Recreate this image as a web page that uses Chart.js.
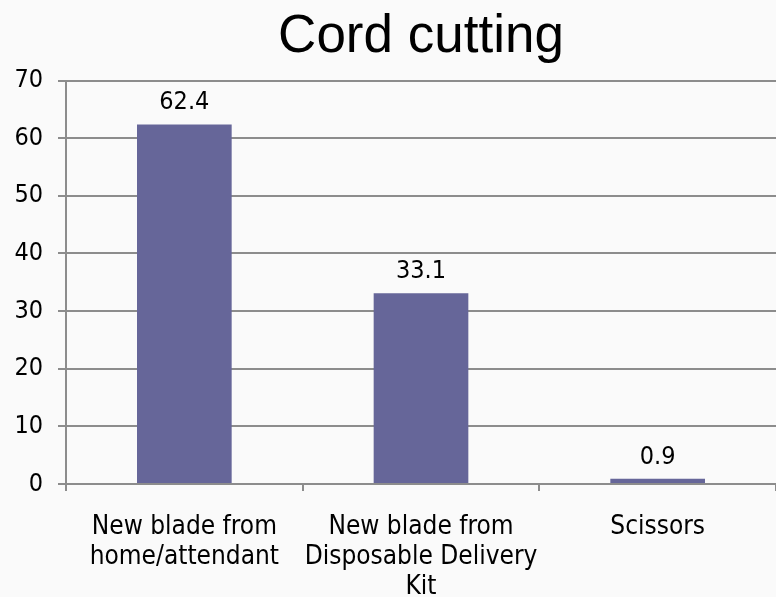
<!DOCTYPE html>
<html>
<head>
<meta charset="utf-8">
<script src="https://cdn.jsdelivr.net/npm/chart.js@4/dist/chart.umd.min.js"></script>
<style>
  html, body { margin: 0; padding: 0; background: #fafafa; }
  #wrap { width: 776px; height: 597px; }
</style>
</head>
<body>
<div id="wrap"><canvas id="c" width="776" height="597"></canvas></div>
<script>
// Share of deliveries by cord-cutting instrument
const categories = [
  ['New blade from', 'home/attendant'],
  ['New blade from', 'Disposable Delivery', 'Kit'],
  ['Scissors']
];
const values = [62.4, 33.1, 0.9];
const yTicks = [0, 10, 20, 30, 40, 50, 60, 70];

const labelFont = "'DejaVu Sans Condensed', 'DejaVu Sans', Tahoma, sans-serif";
const axisGray = '#8c8c8c';

// Writes each bar's value just above it
const valueLabels = {
  id: 'valueLabels',
  afterDatasetsDraw(chart) {
    const ctx = chart.ctx;
    const meta = chart.getDatasetMeta(0);
    ctx.save();
    ctx.font = '25px ' + labelFont;
    ctx.fillStyle = '#000';
    ctx.textAlign = 'center';
    ctx.textBaseline = 'alphabetic';
    meta.data.forEach((bar, i) => {
      ctx.fillText(values[i].toFixed(1), bar.x, bar.y - 15);
    });
    ctx.restore();
  }
};

new Chart(document.getElementById('c'), {
  type: 'bar',
  data: {
    labels: categories,
    datasets: [{
      data: values,
      backgroundColor: '#666699',
      borderWidth: 0,
      categoryPercentage: 1,
      barPercentage: 0.4
    }]
  },
  options: {
    responsive: false,
    animation: false,
    layout: { padding: { left: 0, right: 0, top: 0, bottom: 0 } },
    plugins: {
      legend: { display: false },
      tooltip: { enabled: false },
      title: {
        display: true,
        fullSize: false,
        text: 'Cord cutting',
        color: '#000',
        font: { family: "'Liberation Sans', Arial, sans-serif", size: 53, weight: 'normal', lineHeight: 1.2 },
        padding: { top: 6, bottom: 11 }
      }
    },
    scales: {
      x: {
        grid: { display: true, drawOnChartArea: false, drawTicks: true, tickLength: 7, color: axisGray, lineWidth: 2, offset: true },
        border: { color: axisGray, width: 2 },
        ticks: {
          color: '#000',
          font: { family: labelFont, size: 26, lineHeight: 1.15 },
          padding: 21,
          maxRotation: 0,
          autoSkip: false
        },
        afterFit(scale) { scale.height = 113; }
      },
      y: {
        min: 0,
        max: 70,
        afterBuildTicks(scale) { scale.ticks = yTicks.map(v => ({ value: v })); },
        grid: { color: axisGray, lineWidth: 2, drawTicks: true, tickLength: 8 },
        border: { color: axisGray, width: 2 },
        ticks: {
          color: '#000',
          font: { family: labelFont, size: 25 },
          padding: 15
        },
        afterFit(scale) { scale.width = 66; }
      }
    }
  },
  plugins: [valueLabels]
});
</script>
</body>
</html>
